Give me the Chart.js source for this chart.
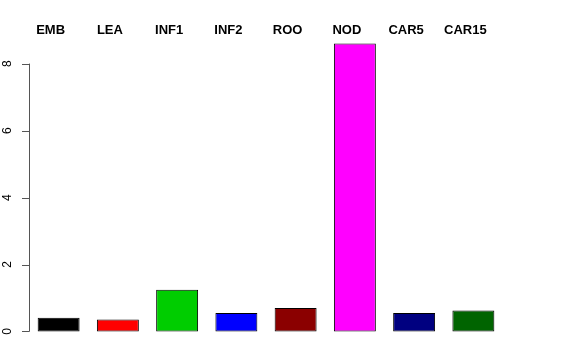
<!DOCTYPE html>
<html>
<head>
<meta charset="utf-8">
<script src="https://cdn.jsdelivr.net/npm/chart.js@4/dist/chart.umd.min.js"></script>
<style>
  body { margin: 0; background: #fff; }
</style>
</head>
<body>
<canvas id="chart" width="576" height="360"></canvas>
<script>
const categories = ['EMB', 'LEA', 'INF1', 'INF2', 'ROO', 'NOD', 'CAR5', 'CAR15'];
const values = [0.41, 0.36, 1.25, 0.55, 0.70, 8.60, 0.55, 0.63];
const barColors = ['#000000', '#FF0000', '#00CD00', '#0000FF', '#8B0000', '#FF00FF', '#000080', '#006400'];
const yTicks = [0, 2, 4, 6, 8];

// R-style axis on the left plus labels above each bar
const rAxisPlugin = {
  id: 'rAxis',
  afterDraw(chart) {
    const ctx = chart.ctx;
    const y = chart.scales.y;
    const x = chart.scales.x;
    const left = chart.chartArea.left;

    ctx.save();
    ctx.strokeStyle = '#555';
    ctx.lineWidth = 1;
    ctx.beginPath();
    ctx.moveTo(left + 0.5, y.getPixelForValue(yTicks[0]));
    ctx.lineTo(left + 0.5, y.getPixelForValue(yTicks[yTicks.length - 1]));
    yTicks.forEach(t => {
      const py = Math.round(y.getPixelForValue(t)) + 0.5;
      ctx.moveTo(left + 0.5, py);
      ctx.lineTo(left - 7, py);
    });
    ctx.stroke();

    ctx.fillStyle = '#000';
    ctx.font = '12px "Liberation Sans", Arial, sans-serif';
    ctx.textAlign = 'center';
    ctx.textBaseline = 'middle';
    yTicks.forEach(t => {
      ctx.save();
      ctx.translate(8, y.getPixelForValue(t));
      ctx.rotate(-Math.PI / 2);
      ctx.fillText(String(t), 0, 0);
      ctx.restore();
    });

    ctx.font = 'bold 13px "Liberation Sans", Arial, sans-serif';
    categories.forEach((c, i) => {
      ctx.fillText(c, x.getPixelForValue(i) - 8, 30);
    });
    ctx.restore();
  }
};

new Chart(document.getElementById('chart'), {
  type: 'bar',
  data: {
    labels: categories,
    datasets: [{
      data: values,
      backgroundColor: barColors,
      borderColor: '#000',
      borderWidth: 1,
      borderSkipped: false,
      barPercentage: 0.708,
      categoryPercentage: 1
    }]
  },
  options: {
    responsive: false,
    animation: false,
    layout: { padding: { left: 29, right: 73, top: 32, bottom: 17 } },
    plugins: { legend: { display: false }, tooltip: { enabled: false } },
    scales: {
      x: { display: false },
      y: { display: false, min: -0.344, max: 8.944 }
    }
  },
  plugins: [rAxisPlugin]
});
</script>
</body>
</html>
